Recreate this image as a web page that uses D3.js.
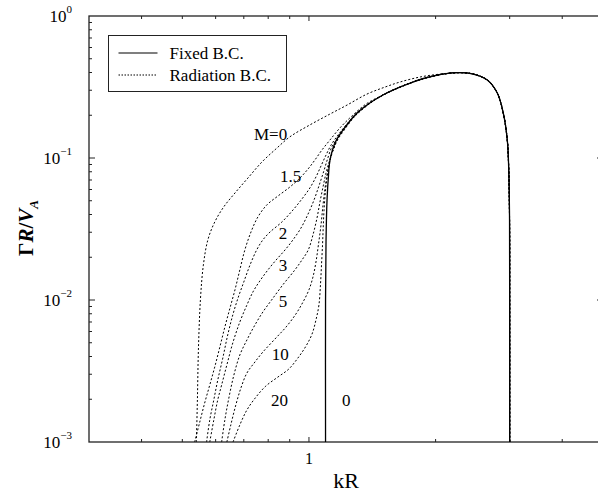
<!DOCTYPE html>
<html>
<head>
<meta charset="utf-8">
<script src="https://cdn.jsdelivr.net/npm/d3@7"></script>
<style>
  body { margin: 0; background: #fff; }
  svg { display: block; font-family: "Liberation Serif", "Times New Roman", serif; }
</style>
</head>
<body>
<svg id="chart" width="598" height="493"></svg>
<script>
// Growth rate Gamma R / V_A against kR, log-log. One fixed-B.C. curve (solid)
// and radiation-B.C. curves (dotted) for several Mach numbers M.
// Values are [kR, Gamma R / V_A].
const fixedBC = [
  [1.095, 0.001], [1.095, 0.01], [1.098, 0.0265], [1.104, 0.0506], [1.113, 0.0759],
  [1.122, 0.0968], [1.153, 0.1275], [1.205, 0.1575], [1.308, 0.211], [1.500, 0.278],
  [1.740, 0.337], [1.974, 0.378], [2.251, 0.399], [2.458, 0.390], [2.654, 0.354],
  [2.803, 0.287], [2.897, 0.207], [2.961, 0.134], [2.985, 0.0823], [2.998, 0.0366],
  [3.0, 0.01], [3.0, 0.001]
];

const radM0 = [
  [0.540, 0.001], [0.543, 0.00198], [0.546, 0.00445], [0.552, 0.0100], [0.561, 0.0176],
  [0.575, 0.0265], [0.597, 0.0354], [0.627, 0.0452], [0.667, 0.0567], [0.716, 0.0723],
  [0.773, 0.0937], [0.835, 0.116], [0.901, 0.141], [1.005, 0.171], [1.122, 0.204],
  [1.232, 0.236], [1.374, 0.282], [1.517, 0.316], [1.647, 0.343], [1.838, 0.372],
  [2.051, 0.390]
];
const radM1p5 = [
  [0.535, 0.001], [0.550, 0.00138], [0.565, 0.00188], [0.581, 0.00252], [0.597, 0.00337],
  [0.614, 0.00467], [0.631, 0.00645], [0.649, 0.00878], [0.667, 0.0118], [0.685, 0.0163],
  [0.704, 0.0225], [0.728, 0.0301], [0.756, 0.0384], [0.794, 0.0467], [0.844, 0.0540],
  [0.901, 0.0625], [0.952, 0.0723], [0.995, 0.0837], [1.033, 0.0968], [1.074, 0.114],
  [1.122, 0.134], [1.185, 0.163], [1.266, 0.198], [1.367, 0.240]
];
const radM2 = [
  [0.571, 0.001], [0.581, 0.00143], [0.594, 0.00198], [0.607, 0.00273], [0.624, 0.00390],
  [0.641, 0.00567], [0.659, 0.00784], [0.678, 0.0103], [0.700, 0.0134], [0.724, 0.0176],
  [0.751, 0.0225], [0.777, 0.0265], [0.808, 0.0301], [0.862, 0.0354], [0.916, 0.0430],
  [0.962, 0.0514], [1.005, 0.0615], [1.039, 0.0735], [1.068, 0.0878], [1.098, 0.105],
  [1.128, 0.123], [1.172, 0.145], [1.232, 0.174], [1.294, 0.206], [1.382, 0.238]
];
const radM3 = [
  [0.581, 0.001], [0.594, 0.00143], [0.607, 0.00198], [0.620, 0.00252], [0.638, 0.00349],
  [0.659, 0.00498], [0.685, 0.00700], [0.712, 0.00922], [0.736, 0.0114], [0.764, 0.0136],
  [0.799, 0.0163], [0.835, 0.0191], [0.877, 0.0225], [0.916, 0.0265], [0.957, 0.0321],
  [0.995, 0.0403], [1.028, 0.0506], [1.056, 0.0635], [1.083, 0.0797], [1.107, 0.0984],
  [1.134, 0.120], [1.179, 0.143], [1.238, 0.172], [1.294, 0.204], [1.382, 0.238]
];
const radM5 = [
  [0.620, 0.001], [0.631, 0.00143], [0.645, 0.00204], [0.663, 0.00296], [0.685, 0.00410],
  [0.712, 0.00523], [0.744, 0.00667], [0.777, 0.00823], [0.815, 0.0100], [0.867, 0.0128],
  [0.926, 0.0163], [0.962, 0.0191], [0.996, 0.0225], [1.022, 0.0287], [1.045, 0.0378],
  [1.062, 0.0490], [1.080, 0.0625], [1.098, 0.0784], [1.119, 0.0953], [1.147, 0.118],
  [1.176, 0.143], [1.222, 0.168], [1.280, 0.196], [1.374, 0.234]
];
const radM10 = [
  [0.638, 0.001], [0.652, 0.00132], [0.670, 0.00182], [0.689, 0.00240], [0.712, 0.00306],
  [0.744, 0.00366], [0.777, 0.00430], [0.830, 0.00531], [0.882, 0.00645], [0.931, 0.00797],
  [0.968, 0.00968], [1.000, 0.0118], [1.022, 0.0145], [1.039, 0.0185], [1.053, 0.0244],
  [1.068, 0.0337], [1.080, 0.0467], [1.092, 0.0615], [1.104, 0.0759], [1.119, 0.0937],
  [1.141, 0.114], [1.172, 0.137], [1.218, 0.164], [1.273, 0.191], [1.367, 0.232]
];
const radM20 = [
  [0.660, 0.001], [0.685, 0.00132], [0.712, 0.00168], [0.748, 0.00207], [0.790, 0.00248],
  [0.844, 0.00287], [0.896, 0.00327], [0.941, 0.00390], [0.984, 0.00474], [1.017, 0.00576],
  [1.039, 0.00723], [1.056, 0.00922], [1.065, 0.0128], [1.071, 0.0176], [1.077, 0.0244],
  [1.081, 0.0321], [1.086, 0.0430], [1.095, 0.0595], [1.104, 0.0723], [1.116, 0.0893],
  [1.134, 0.108], [1.166, 0.132], [1.212, 0.157], [1.280, 0.194], [1.374, 0.234]
];
const radiationCurves = [radM0, radM1p5, radM2, radM3, radM5, radM10, radM20];

// curve labels and where they sit, in data units [kR, Gamma]
const curveLabels = ["M=0", "1.5", "2", "3", "5", "10", "20", "0"];
const labelAnchors = [
  [0.740, 0.134], [0.853, 0.0678], [0.848, 0.0269], [0.848, 0.0160],
  [0.848, 0.00893], [0.816, 0.00378], [0.812, 0.00179], [1.198, 0.00179]
];

const legendItems = ["Fixed B.C.", "Radiation B.C."];
const xDomain = [0.3, 5];
const yDomain = [1e-3, 1];
const yDecadeLabels = [["10", "−3"], ["10", "−2"], ["10", "−1"], ["10", "0"]];

const width = 598, height = 493;
const m = { top: 16, left: 89, bottom: 51 };
const plotRight = 603; // right frame sits just past the picture edge
const iW = plotRight - m.left, iH = height - m.top - m.bottom;

const svg = d3.select("#chart");
const x = d3.scaleLog(xDomain, [0, iW]);
const y = d3.scaleLog(yDomain, [iH, 0]);
const g = svg.append("g").attr("transform", `translate(${m.left},${m.top})`);

g.append("defs").append("clipPath").attr("id", "plot-clip")
  .append("rect").attr("width", iW).attr("height", iH);

// frame
g.append("rect").attr("width", iW).attr("height", iH)
  .attr("fill", "none").attr("stroke", "#222").attr("stroke-width", 1.3);

// ticks, all pointing inward
const xTicks = x.ticks().filter((d) => d > xDomain[0] && d < xDomain[1]);
const yTicks = y.ticks();
const isDecade = (d) => Math.abs(Math.log10(d) - Math.round(Math.log10(d))) < 1e-9;
const tickG = g.append("g").attr("stroke", "#222").attr("stroke-width", 1);
xTicks.forEach((d) => {
  const len = isDecade(d) ? 5 : 3;
  tickG.append("line").attr("x1", x(d)).attr("x2", x(d)).attr("y1", iH).attr("y2", iH - len);
  tickG.append("line").attr("x1", x(d)).attr("x2", x(d)).attr("y1", 0).attr("y2", len);
});
yTicks.forEach((d) => {
  if (d <= yDomain[0] || d >= yDomain[1]) return;
  const len = isDecade(d) ? 6 : 3;
  tickG.append("line").attr("x1", 0).attr("x2", len).attr("y1", y(d)).attr("y2", y(d));
  tickG.append("line").attr("x1", iW).attr("x2", iW - len).attr("y1", y(d)).attr("y2", y(d));
});

// x tick label
g.append("text").attr("x", x(1)).attr("y", iH + 22).attr("text-anchor", "middle")
  .attr("font-size", 16).text("1");

// y tick labels as 10^n
[1e-3, 1e-2, 1e-1, 1].forEach((d, i) => {
  const t = g.append("text").attr("x", -17).attr("y", y(d) + 6)
    .attr("text-anchor", "end").attr("font-size", 17);
  t.append("tspan").text(yDecadeLabels[i][0]);
  t.append("tspan").attr("dy", -9).attr("font-size", 11).text(yDecadeLabels[i][1]);
});

// axis titles
svg.append("text").attr("x", 346).attr("y", 488).attr("text-anchor", "middle")
  .attr("font-size", 22).text("kR");
const yt = svg.append("text").attr("transform", "translate(33,228) rotate(-90)")
  .attr("text-anchor", "middle").attr("font-size", 21).attr("font-weight", "bold");
yt.append("tspan").text("Γ");
yt.append("tspan").attr("font-style", "italic").text("R");
yt.append("tspan").text("/");
yt.append("tspan").attr("font-style", "italic").text("V");
yt.append("tspan").attr("font-style", "italic").attr("font-size", 13).attr("dy", 5).text("A");

// curves
const line = d3.line().x((d) => x(d[0])).y((d) => y(d[1]))
  .curve(d3.curveCatmullRom.alpha(0.5));
const curves = g.append("g").attr("clip-path", "url(#plot-clip)").attr("fill", "none");

curves.append("path").datum(fixedBC).attr("d", line)
  .attr("stroke", "#000").attr("stroke-width", 1.3);

radiationCurves.forEach((pts) => {
  // past the merge point the radiation curve runs on the fixed-B.C. curve
  const last = pts[pts.length - 1][0];
  const full = pts.concat(fixedBC.filter((p) => p[0] > last));
  curves.append("path").datum(full).attr("d", line)
    .attr("stroke", "#000").attr("stroke-width", 1).attr("stroke-dasharray", "2,2");
});

// curve labels
curveLabels.forEach((lab, i) => {
  const [kx, gy] = labelAnchors[i];
  g.append("text").attr("x", x(kx)).attr("y", y(gy)).attr("font-size", 17).text(lab);
});

// legend
const lg = svg.append("g").attr("transform", "translate(108.5,35.5)");
lg.append("rect").attr("width", 178).attr("height", 56)
  .attr("fill", "#fff").attr("stroke", "#222").attr("stroke-width", 1);
legendItems.forEach((name, i) => {
  const ly = 17.5 + i * 22;
  lg.append("line").attr("x1", 10).attr("x2", 49).attr("y1", ly).attr("y2", ly)
    .attr("stroke", "#000").attr("stroke-width", i === 0 ? 1.2 : 1)
    .attr("stroke-dasharray", i === 0 ? null : "1.5,1.5");
  lg.append("text").attr("x", 61).attr("y", ly + 6).attr("font-size", 17).text(name);
});
</script>
</body>
</html>
